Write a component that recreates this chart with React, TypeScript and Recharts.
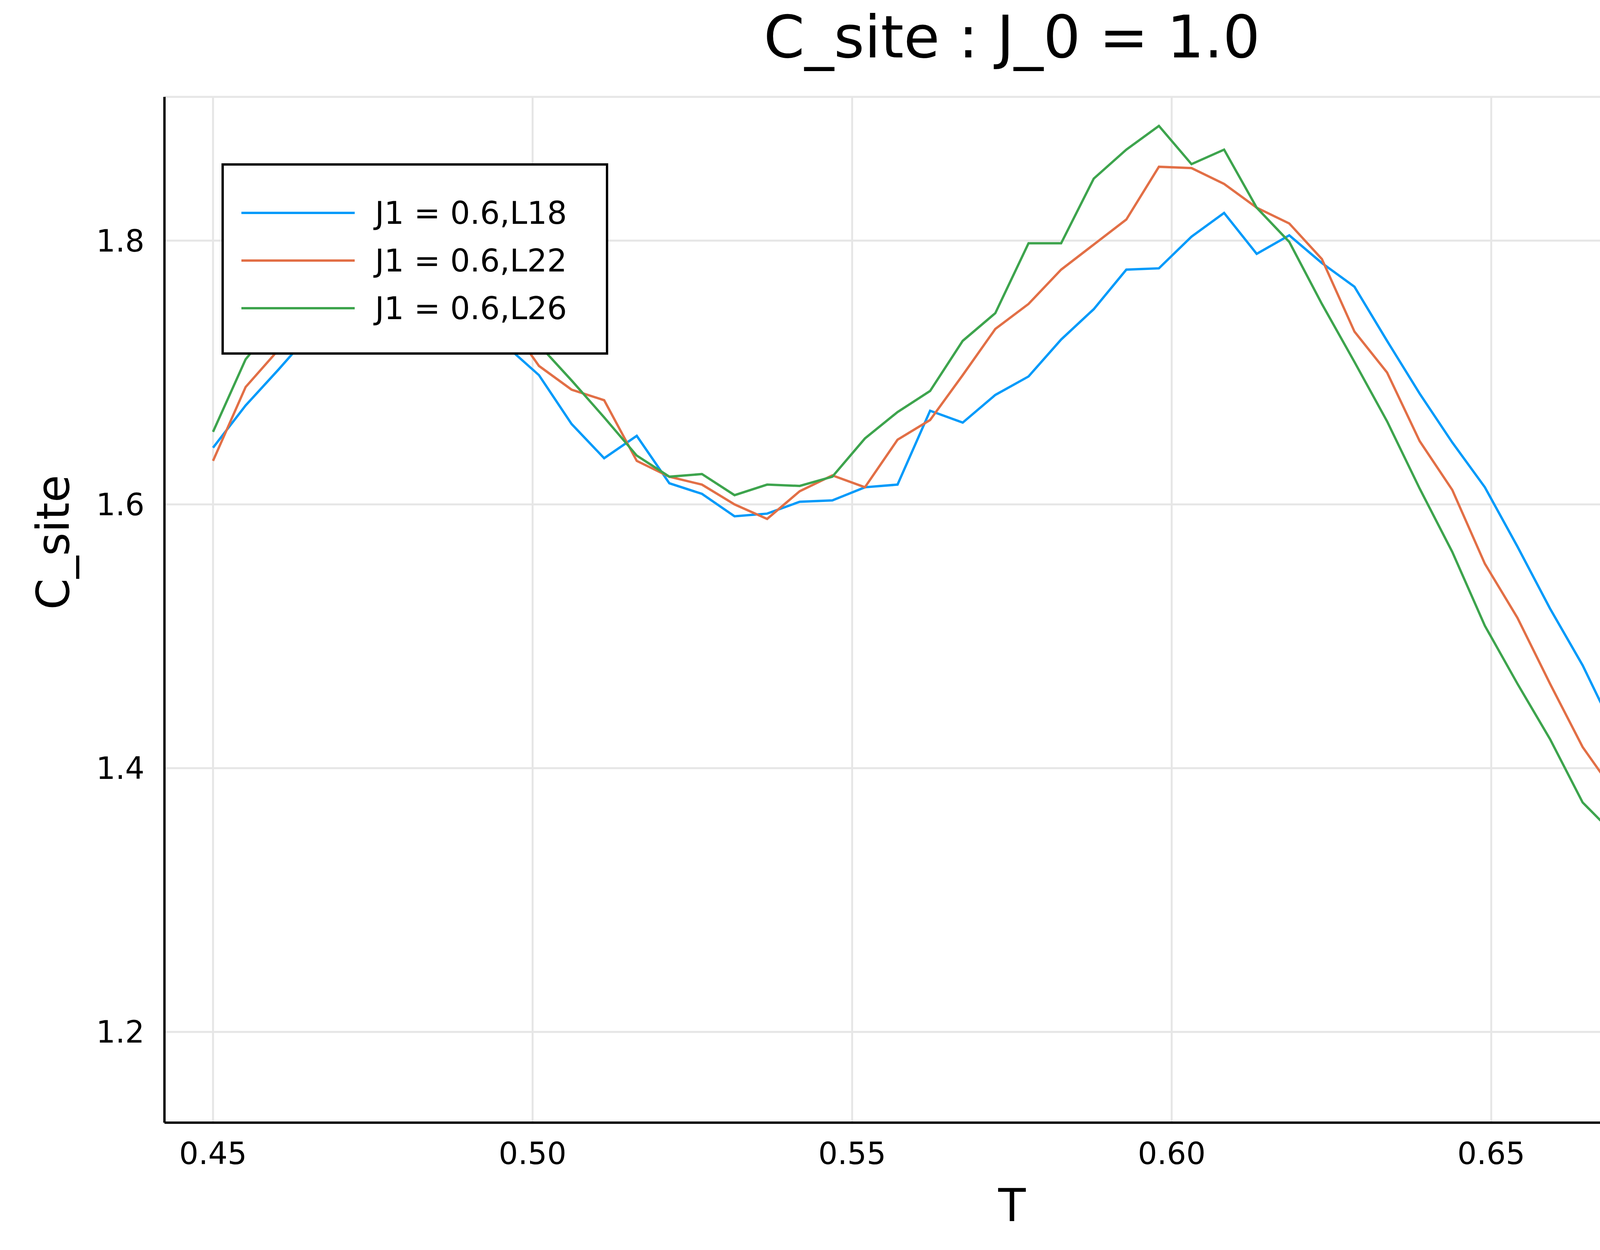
import React from 'react';
import { LineChart, Line, XAxis, YAxis, CartesianGrid } from 'recharts';

const T = [0.4500,0.4551,0.4602,0.4653,0.4704,0.4755,0.4806,0.4857,0.4908,0.4959,0.5010,0.5061,0.5112,0.5163,0.5214,0.5265,0.5316,0.5367,0.5418,0.5469,0.5520,0.5571,0.5622,0.5673,0.5724,0.5776,0.5827,0.5878,0.5929,0.5980,0.6031,0.6082,0.6133,0.6184,0.6235,0.6286,0.6337,0.6388,0.6439,0.6490,0.6541,0.6592,0.6643,0.6694,0.6745,0.6796,0.6847,0.6898,0.6949,0.7000];
const L18 = [1.643,1.675,1.702,1.73,1.755,1.77,1.775,1.765,1.745,1.72,
  1.698,1.661,1.635,1.652,1.616,1.608,1.591,1.593,1.602,1.603,
  1.613,1.615,1.671,1.662,1.683,1.697,1.725,1.748,1.778,1.779,
  1.803,1.821,1.790,1.804,1.783,1.765,1.724,1.684,1.647,1.613,
  1.568,1.521,1.478,1.427,1.392,1.347,1.304,1.270,1.228,1.200];
const L22 = [1.633,1.689,1.717,1.745,1.765,1.78,1.785,1.78,1.765,1.74,
  1.705,1.687,1.679,1.633,1.621,1.615,1.600,1.589,1.610,1.622,
  1.613,1.649,1.664,1.698,1.733,1.752,1.778,1.797,1.816,1.856,
  1.855,1.843,1.825,1.813,1.786,1.731,1.700,1.648,1.611,1.555,
  1.514,1.464,1.416,1.381,1.338,1.303,1.259,1.227,1.197,1.166];
const L26 = [1.655,1.71,1.74,1.765,1.785,1.795,1.795,1.785,1.77,1.75,
  1.721,1.694,1.666,1.637,1.621,1.623,1.607,1.615,1.614,1.621,
  1.650,1.670,1.686,1.724,1.745,1.798,1.798,1.847,1.869,1.887,
  1.858,1.869,1.825,1.799,1.752,1.708,1.663,1.612,1.564,1.508,
  1.464,1.422,1.374,1.349,1.312,1.273,1.234,1.209,1.178,1.152];
const X_TICKS = [0.45, 0.50, 0.55, 0.60, 0.65, 0.70];
const Y_TICKS = [1.2, 1.4, 1.6, 1.8];
const SERIES = [
  { key: 'L18', name: 'J1 = 0.6,L18', color: '#009AFA' },
  { key: 'L22', name: 'J1 = 0.6,L22', color: '#E26F46' },
  { key: 'L26', name: 'J1 = 0.6,L26', color: '#3DA44D' },
];

const data = T.map((t, i) => ({ T: t, L18: L18[i], L22: L22[i], L26: L26[i] }));
const FONT = '"DejaVu Sans", sans-serif';

const LegendBox = () => (
  <div style={{ position: 'absolute', left: 567, top: 418, border: '6px solid #000', background: '#fff', width: 990, height: 490, boxSizing: 'border-box', paddingTop: 60, fontFamily: FONT }}>
    {SERIES.map((s) => (
      <div key={s.key} style={{ display: 'flex', alignItems: 'center', height: 122 }}>
        <div style={{ marginLeft: 45, width: 290, height: 6, background: s.color }} />
        <span style={{ marginLeft: 52, fontSize: 80, color: '#000' }}>{s.name}</span>
      </div>
    ))}
  </div>
);

export default function App() {
  return (
    <div style={{ position: 'absolute', left: 0, top: 0, width: 4800, height: 3200, background: '#fff', fontFamily: FONT }}>
      <div style={{ position: 'absolute', left: 421, width: 4339, top: 10, textAlign: 'center', fontSize: 150, lineHeight: '170px' }}>C_site : J_0 = 1.0</div>
      <LineChart width={4800} height={3200} data={data} margin={{ top: 248, right: 40, bottom: 0, left: 0 }}>
        <CartesianGrid stroke="#e6e6e6" strokeWidth={5} />
        <XAxis dataKey="T" type="number" domain={[0.4424, 0.7076]} ticks={X_TICKS} allowDataOverflow
          tickFormatter={(v: number) => v.toFixed(2)} height={326} tickLine={false} tickMargin={45}
          axisLine={{ stroke: '#000', strokeWidth: 6 }} tick={{ fill: '#000', fontSize: 78, fontFamily: FONT }}
          label={{ value: 'T', position: 'insideTop', offset: 170, fontSize: 115, fill: '#000', fontFamily: FONT }} />
        <YAxis type="number" domain={[1.1312, 1.909]} ticks={Y_TICKS} allowDataOverflow width={421}
          tickFormatter={(v: number) => v.toFixed(1)} tickLine={false} tickMargin={45}
          axisLine={{ stroke: '#000', strokeWidth: 6 }} tick={{ fill: '#000', fontSize: 78, fontFamily: FONT }}
          label={{ value: 'C_site', angle: -90, position: 'insideLeft', offset: 135, fontSize: 115, fill: '#000', fontFamily: FONT }} />
        {SERIES.map((s) => (
          <Line key={s.key} dataKey={s.key} name={s.name} stroke={s.color} strokeWidth={6} dot={false} isAnimationActive={false} type="linear" />
        ))}
      </LineChart>
      <LegendBox />
    </div>
  );
}
